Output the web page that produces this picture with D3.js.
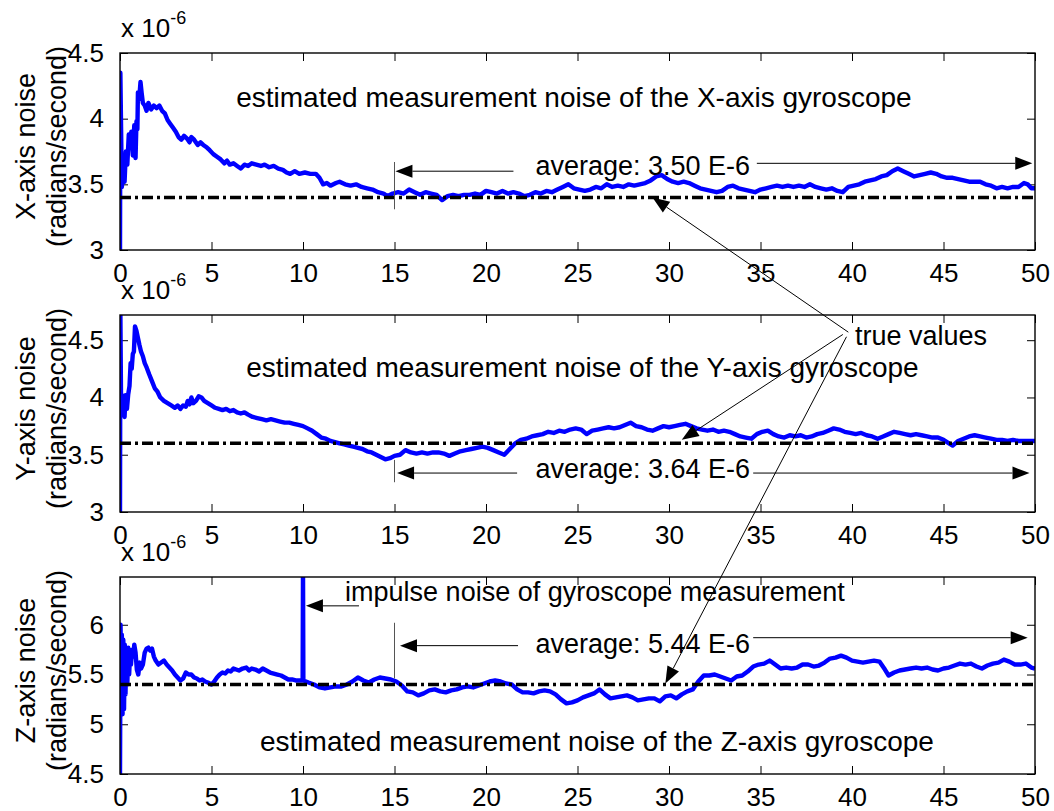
<!DOCTYPE html>
<html>
<head>
<meta charset="utf-8">
<script src="https://cdn.jsdelivr.net/npm/d3@7/dist/d3.min.js"></script>
<style>
  html, body { margin: 0; padding: 0; background: #fff; }
  text { font-family: "Liberation Sans", Arial, sans-serif; fill: #000; }
</style>
</head>
<body>
<svg id="chart" width="1054" height="811"></svg>
<script>
// ---- data (time in s, noise in 1e-6 rad/s) ----
const timeTicks = [0, 5, 10, 15, 20, 25, 30, 35, 40, 45, 50];

const xNoise = [[0, 2.98], [0.02, 4.35], [0.1, 3.48], [0.18, 3.6], [0.25, 3.52], [0.32, 3.75], [0.4, 3.65], [0.48, 3.88], [0.55, 3.78], [0.62, 3.9], [0.7, 3.72], [0.78, 3.95], [0.85, 3.7], [0.9, 3.98], [0.95, 3.92], [0.98, 4.2], [1.05, 4.15], [1.12, 4.28], [1.18, 4.2], [1.25, 4.12], [1.35, 4.1], [1.45, 4.06], [1.55, 4.12], [1.7, 4.07], [1.85, 4.1], [2.0, 4.08], [2.15, 4.1], [2.3, 4.06], [2.45, 4.04], [2.6, 3.99], [2.75, 3.96], [2.9, 3.93], [3.05, 3.9], [3.2, 3.86], [3.35, 3.84], [3.5, 3.87], [3.65, 3.85], [3.8, 3.82], [3.9, 3.86], [4.05, 3.84], [4.25, 3.8], [4.4, 3.82], [4.55, 3.8], [4.75, 3.78], [4.9, 3.76], [5.1, 3.73], [5.3, 3.71], [5.5, 3.69], [5.7, 3.66], [5.85, 3.68], [6.0, 3.65], [6.2, 3.66], [6.4, 3.64], [6.6, 3.62], [6.8, 3.65], [7.0, 3.64], [7.2, 3.66], [7.45, 3.65], [7.7, 3.64], [7.9, 3.65], [8.15, 3.63], [8.4, 3.64], [8.65, 3.62], [8.9, 3.61], [9.1, 3.59], [9.3, 3.58], [9.55, 3.6], [9.8, 3.58], [10.1, 3.59], [10.4, 3.58], [10.7, 3.58], [10.9, 3.55], [11.1, 3.5], [11.3, 3.51], [11.5, 3.49], [11.8, 3.51], [12.0, 3.52], [12.3, 3.5], [12.6, 3.49], [12.9, 3.5], [13.2, 3.48], [13.5, 3.47], [13.8, 3.46], [14.1, 3.44], [14.4, 3.43], [14.6, 3.41], [14.9, 3.43], [15.2, 3.44], [15.5, 3.43], [15.8, 3.46], [16.1, 3.44], [16.4, 3.42], [16.7, 3.44], [17.0, 3.43], [17.3, 3.42], [17.6, 3.38], [17.9, 3.41], [18.2, 3.42], [18.5, 3.41], [18.8, 3.42], [19.1, 3.42], [19.4, 3.43], [19.7, 3.42], [20.0, 3.45], [20.3, 3.44], [20.6, 3.43], [20.9, 3.45], [21.2, 3.43], [21.5, 3.44], [21.8, 3.43], [22.1, 3.41], [22.4, 3.42], [22.7, 3.44], [23.0, 3.43], [23.3, 3.45], [23.6, 3.44], [23.9, 3.46], [24.2, 3.48], [24.5, 3.5], [24.8, 3.47], [25.1, 3.46], [25.4, 3.45], [25.7, 3.46], [26.0, 3.48], [26.3, 3.47], [26.6, 3.5], [26.9, 3.48], [27.2, 3.49], [27.5, 3.48], [27.8, 3.5], [28.1, 3.49], [28.4, 3.5], [28.7, 3.51], [29.0, 3.53], [29.3, 3.56], [29.6, 3.57], [29.9, 3.54], [30.2, 3.52], [30.5, 3.51], [30.8, 3.52], [31.1, 3.51], [31.4, 3.49], [31.7, 3.47], [32.0, 3.46], [32.3, 3.45], [32.6, 3.44], [32.9, 3.45], [33.2, 3.48], [33.5, 3.49], [33.8, 3.47], [34.1, 3.46], [34.4, 3.45], [34.7, 3.44], [35.0, 3.46], [35.3, 3.47], [35.6, 3.48], [35.9, 3.49], [36.2, 3.48], [36.5, 3.49], [36.8, 3.48], [37.1, 3.49], [37.4, 3.48], [37.7, 3.5], [38.0, 3.48], [38.3, 3.47], [38.6, 3.46], [38.9, 3.47], [39.2, 3.45], [39.5, 3.44], [39.8, 3.48], [40.1, 3.49], [40.4, 3.5], [40.7, 3.52], [41.0, 3.53], [41.3, 3.54], [41.6, 3.56], [41.9, 3.57], [42.2, 3.6], [42.5, 3.62], [42.8, 3.6], [43.1, 3.58], [43.4, 3.56], [43.7, 3.57], [44.0, 3.58], [44.3, 3.59], [44.6, 3.58], [44.9, 3.56], [45.2, 3.55], [45.5, 3.55], [45.8, 3.54], [46.1, 3.53], [46.4, 3.52], [46.7, 3.52], [47.0, 3.52], [47.3, 3.5], [47.6, 3.49], [47.9, 3.47], [48.2, 3.48], [48.5, 3.47], [48.8, 3.48], [49.1, 3.48], [49.4, 3.51], [49.6, 3.5], [49.8, 3.47], [50, 3.47]];

const yNoise = [[0, 2.98], [0.02, 4.75], [0.06, 3.9], [0.1, 4.02], [0.15, 3.85], [0.2, 4.0], [0.25, 3.83], [0.3, 4.02], [0.38, 3.9], [0.45, 4.03], [0.52, 4.1], [0.58, 4.3], [0.64, 4.25], [0.7, 4.38], [0.76, 4.4], [0.82, 4.62], [0.9, 4.58], [0.98, 4.52], [1.06, 4.46], [1.15, 4.4], [1.25, 4.36], [1.35, 4.3], [1.46, 4.26], [1.6, 4.2], [1.75, 4.14], [1.9, 4.08], [2.05, 4.05], [2.2, 4.0], [2.4, 3.97], [2.6, 3.95], [2.8, 3.93], [3.0, 3.91], [3.15, 3.93], [3.3, 3.9], [3.45, 3.93], [3.6, 3.92], [3.7, 3.97], [3.8, 3.94], [3.9, 4.0], [4.0, 3.95], [4.15, 3.97], [4.3, 4.01], [4.45, 4.0], [4.6, 3.97], [4.8, 3.95], [5.0, 3.93], [5.2, 3.91], [5.4, 3.9], [5.6, 3.89], [5.8, 3.9], [6.0, 3.88], [6.2, 3.89], [6.4, 3.87], [6.6, 3.86], [6.8, 3.87], [7.0, 3.85], [7.25, 3.83], [7.5, 3.82], [7.75, 3.81], [8.0, 3.8], [8.25, 3.81], [8.5, 3.8], [8.75, 3.79], [9.0, 3.78], [9.25, 3.78], [9.5, 3.77], [9.75, 3.76], [10.0, 3.75], [10.25, 3.73], [10.5, 3.71], [10.75, 3.68], [11.0, 3.65], [11.25, 3.64], [11.5, 3.62], [11.75, 3.61], [12.0, 3.6], [12.25, 3.59], [12.5, 3.58], [12.75, 3.57], [13.0, 3.56], [13.25, 3.55], [13.5, 3.53], [13.75, 3.52], [14.0, 3.5], [14.25, 3.48], [14.5, 3.46], [14.75, 3.47], [15.0, 3.49], [15.3, 3.5], [15.6, 3.54], [15.9, 3.52], [16.2, 3.51], [16.5, 3.52], [16.8, 3.51], [17.1, 3.52], [17.4, 3.52], [17.7, 3.51], [18.0, 3.49], [18.3, 3.51], [18.6, 3.53], [18.9, 3.54], [19.2, 3.55], [19.5, 3.56], [19.8, 3.57], [20.1, 3.56], [20.4, 3.54], [20.7, 3.52], [21.0, 3.5], [21.3, 3.55], [21.6, 3.6], [21.9, 3.63], [22.2, 3.64], [22.5, 3.66], [22.8, 3.67], [23.1, 3.68], [23.4, 3.7], [23.7, 3.69], [24.0, 3.71], [24.3, 3.7], [24.6, 3.72], [24.9, 3.73], [25.2, 3.72], [25.5, 3.68], [25.8, 3.71], [26.1, 3.72], [26.4, 3.73], [26.7, 3.74], [27.0, 3.73], [27.3, 3.74], [27.6, 3.76], [27.9, 3.78], [28.2, 3.75], [28.5, 3.74], [28.8, 3.72], [29.1, 3.71], [29.4, 3.73], [29.7, 3.75], [30.0, 3.74], [30.3, 3.75], [30.6, 3.76], [30.9, 3.77], [31.2, 3.75], [31.5, 3.73], [31.8, 3.72], [32.1, 3.71], [32.4, 3.72], [32.7, 3.7], [33.0, 3.71], [33.3, 3.7], [33.6, 3.68], [33.9, 3.66], [34.2, 3.65], [34.5, 3.64], [34.8, 3.68], [35.1, 3.7], [35.4, 3.71], [35.7, 3.68], [36.0, 3.66], [36.3, 3.65], [36.6, 3.67], [36.9, 3.66], [37.2, 3.67], [37.5, 3.65], [37.8, 3.66], [38.1, 3.68], [38.4, 3.69], [38.7, 3.71], [39.0, 3.73], [39.3, 3.72], [39.6, 3.7], [39.9, 3.69], [40.2, 3.68], [40.5, 3.69], [40.8, 3.67], [41.1, 3.66], [41.4, 3.64], [41.7, 3.66], [42.0, 3.68], [42.3, 3.7], [42.6, 3.69], [42.9, 3.68], [43.2, 3.67], [43.5, 3.68], [43.8, 3.67], [44.1, 3.66], [44.4, 3.65], [44.7, 3.65], [45.0, 3.63], [45.3, 3.6], [45.5, 3.58], [45.8, 3.62], [46.1, 3.64], [46.4, 3.66], [46.7, 3.67], [47.0, 3.66], [47.3, 3.65], [47.6, 3.64], [47.9, 3.63], [48.2, 3.63], [48.5, 3.62], [48.8, 3.63], [49.1, 3.62], [49.4, 3.62], [49.7, 3.62], [50, 3.62]];

const zNoise = [[0, 4.5], [0.03, 6.0], [0.07, 5.2], [0.1, 5.9], [0.14, 5.1], [0.18, 5.85], [0.22, 5.15], [0.26, 5.8], [0.3, 5.3], [0.35, 5.75], [0.4, 5.4], [0.45, 5.77], [0.5, 5.5], [0.55, 5.7], [0.6, 5.6], [0.66, 5.75], [0.72, 5.68], [0.78, 5.8], [0.85, 5.72], [0.92, 5.55], [1.0, 5.5], [1.08, 5.62], [1.15, 5.56], [1.25, 5.6], [1.35, 5.72], [1.45, 5.76], [1.55, 5.77], [1.65, 5.74], [1.75, 5.76], [1.85, 5.68], [1.95, 5.64], [2.1, 5.6], [2.25, 5.62], [2.4, 5.64], [2.55, 5.6], [2.7, 5.57], [2.85, 5.54], [3.0, 5.5], [3.15, 5.47], [3.3, 5.44], [3.45, 5.46], [3.6, 5.52], [3.75, 5.5], [3.9, 5.5], [4.05, 5.47], [4.2, 5.46], [4.35, 5.44], [4.5, 5.45], [4.65, 5.43], [4.8, 5.42], [5.0, 5.4], [5.15, 5.43], [5.3, 5.47], [5.45, 5.5], [5.6, 5.52], [5.75, 5.51], [5.9, 5.54], [6.05, 5.53], [6.2, 5.56], [6.35, 5.55], [6.5, 5.54], [6.7, 5.56], [6.9, 5.57], [7.05, 5.54], [7.2, 5.56], [7.4, 5.55], [7.6, 5.53], [7.8, 5.56], [8.0, 5.54], [8.2, 5.52], [8.4, 5.51], [8.6, 5.5], [8.8, 5.49], [9.0, 5.47], [9.2, 5.45], [9.4, 5.45], [9.6, 5.44], [9.8, 5.44], [9.98, 5.44], [10.0, 6.6], [10.02, 5.44], [10.3, 5.42], [10.6, 5.4], [10.9, 5.37], [11.2, 5.36], [11.5, 5.37], [11.8, 5.38], [12.1, 5.38], [12.4, 5.4], [12.7, 5.43], [13.0, 5.47], [13.3, 5.44], [13.6, 5.42], [13.9, 5.45], [14.2, 5.47], [14.5, 5.46], [14.8, 5.45], [15.1, 5.43], [15.4, 5.39], [15.7, 5.33], [16.0, 5.32], [16.3, 5.29], [16.6, 5.31], [16.9, 5.34], [17.2, 5.35], [17.5, 5.33], [17.8, 5.32], [18.1, 5.34], [18.4, 5.35], [18.7, 5.37], [19.0, 5.38], [19.3, 5.37], [19.6, 5.39], [19.9, 5.41], [20.2, 5.43], [20.5, 5.44], [20.8, 5.43], [21.1, 5.41], [21.4, 5.4], [21.7, 5.35], [22.0, 5.32], [22.3, 5.32], [22.6, 5.31], [22.9, 5.33], [23.2, 5.34], [23.5, 5.33], [23.8, 5.3], [24.1, 5.25], [24.4, 5.21], [24.7, 5.22], [25.0, 5.24], [25.3, 5.27], [25.6, 5.29], [25.9, 5.31], [26.2, 5.35], [26.5, 5.3], [26.8, 5.26], [27.1, 5.27], [27.4, 5.28], [27.7, 5.29], [28.0, 5.27], [28.3, 5.24], [28.6, 5.25], [28.9, 5.26], [29.2, 5.26], [29.5, 5.23], [29.8, 5.28], [30.1, 5.29], [30.4, 5.26], [30.7, 5.3], [31.0, 5.33], [31.3, 5.35], [31.6, 5.43], [31.9, 5.49], [32.2, 5.49], [32.5, 5.5], [32.8, 5.48], [33.1, 5.46], [33.4, 5.44], [33.7, 5.48], [34.0, 5.49], [34.3, 5.53], [34.6, 5.58], [34.9, 5.6], [35.2, 5.61], [35.5, 5.64], [35.8, 5.6], [36.1, 5.56], [36.4, 5.57], [36.7, 5.56], [37.0, 5.57], [37.3, 5.6], [37.6, 5.6], [37.9, 5.58], [38.2, 5.59], [38.5, 5.62], [38.8, 5.66], [39.1, 5.67], [39.4, 5.69], [39.7, 5.67], [40.0, 5.64], [40.3, 5.63], [40.6, 5.62], [40.9, 5.63], [41.2, 5.64], [41.5, 5.63], [41.8, 5.55], [42.0, 5.49], [42.3, 5.52], [42.6, 5.54], [42.9, 5.55], [43.2, 5.56], [43.5, 5.57], [43.8, 5.56], [44.1, 5.57], [44.4, 5.55], [44.7, 5.54], [45.0, 5.56], [45.3, 5.57], [45.6, 5.59], [45.9, 5.61], [46.2, 5.6], [46.5, 5.61], [46.8, 5.58], [47.1, 5.56], [47.4, 5.59], [47.7, 5.61], [48.0, 5.62], [48.3, 5.65], [48.6, 5.63], [48.9, 5.6], [49.2, 5.6], [49.5, 5.61], [49.8, 5.57], [50, 5.56]];

const trueValues = [3.40, 3.60, 5.40];
const averageLabels = ['average: 3.50 E-6', 'average: 3.64 E-6', 'average: 5.44 E-6'];
const titleLabels = [
  'estimated measurement noise of the X-axis gyroscope',
  'estimated measurement noise of the Y-axis gyroscope',
  'estimated measurement noise of the Z-axis gyroscope'
];
const axisLabels = ['X-axis noise', 'Y-axis noise', 'Z-axis noise'];
const yDomains = [[3, 4.5], [3, 4.72], [4.5, 6.48]];
const yTickValues = [[3, 3.5, 4, 4.5], [3, 3.5, 4, 4.5], [4.5, 5, 5.5, 6]];

// annotation anchors, in each panel's data units [t, value]
const titleAnchors = [[6.35, 4.09], [6.9, 4.18], [7.65, 4.73]];
const averageTextAnchors = [[22.7, 3.57], [22.7, 3.30], [22.7, 5.72]];
const leftArrows = [[21.5, 15.05, 3.60], [21.7, 15.14, 3.34], [21.75, 15.3, 5.79]];   // from t, to t, at value
const rightArrows = [[34.8, 49.85, 3.66], [34.6, 49.7, 3.34], [34.6, 49.6, 5.87]];
const markerLines = [[15, 3.31, 3.67], [15, 3.26, 3.455], [15, 5.46, 6.02]];          // t, from value, to value
const arrowTips = [[29.1, 3.40], [30.7, 3.63], [29.8, 5.41]];

// ---- layout ----
const plotLeft = 120, plotRight = 1035;
const panelTops = [53, 315, 577];
const panelHeight = 197;

const svg = d3.select('#chart');
const defs = svg.append('defs');

const x = d3.scaleLinear().domain([0, 50]).range([plotLeft, plotRight]);

function arrow(g, x1, y1, x2, y2) {
  const ang = Math.atan2(y2 - y1, x2 - x1);
  const L = 17, hw = 6.5;
  const bx = x2 - L * Math.cos(ang), by = y2 - L * Math.sin(ang);
  g.append('line')
    .attr('x1', x1).attr('y1', y1).attr('x2', bx).attr('y2', by)
    .attr('stroke', '#000').attr('stroke-width', 1);
  g.append('path')
    .attr('d', `M${x2},${y2}L${bx + hw * Math.sin(ang)},${by - hw * Math.cos(ang)}L${bx - hw * Math.sin(ang)},${by + hw * Math.cos(ang)}Z`)
    .attr('fill', '#000');
}

const series = [xNoise, yNoise, zNoise];
const yScales = [];

series.forEach((data, i) => {
  const top = panelTops[i];
  const y = d3.scaleLinear().domain(yDomains[i]).range([top + panelHeight, top]);
  yScales.push(y);
  const g = svg.append('g');

  defs.append('clipPath').attr('id', 'clip' + i)
    .append('rect').attr('x', plotLeft).attr('y', top)
    .attr('width', plotRight - plotLeft).attr('height', panelHeight);

  // axes: bottom with labels, top/right mirrored, ticks inward
  g.append('g')
    .attr('transform', `translate(0,${top + panelHeight})`)
    .call(d3.axisBottom(x).tickValues(timeTicks).tickSizeInner(-8).tickSizeOuter(0).tickPadding(14).tickFormat(d3.format('d')))
    .call(a => a.select('.domain').remove())
    .call(a => a.selectAll('text').attr('font-size', 26).attr('font-family', '"Liberation Sans", Arial, sans-serif').attr('fill', '#000').attr('dy', '0.71em'));
  g.append('g')
    .attr('transform', `translate(0,${top})`)
    .call(d3.axisTop(x).tickValues(timeTicks).tickSizeInner(-8).tickSizeOuter(0).tickFormat(''))
    .call(a => a.select('.domain').remove());
  g.append('g')
    .attr('transform', `translate(${plotLeft},0)`)
    .call(d3.axisLeft(y).tickValues(yTickValues[i]).tickSizeInner(-8).tickSizeOuter(0).tickPadding(16).tickFormat(d3.format('~g')))
    .call(a => a.select('.domain').remove())
    .call(a => a.selectAll('text').attr('font-size', 26).attr('font-family', '"Liberation Sans", Arial, sans-serif').attr('fill', '#000'));
  g.append('g')
    .attr('transform', `translate(${plotRight},0)`)
    .call(d3.axisRight(y).tickValues(yTickValues[i]).tickSizeInner(-8).tickSizeOuter(0).tickFormat(''))
    .call(a => a.select('.domain').remove());
  g.selectAll('.tick line').attr('stroke', '#000').attr('stroke-width', 1);

  // scale factor label
  const sf = g.append('text').attr('x', plotLeft + 1).attr('y', top - 16).attr('font-size', 26);
  sf.append('tspan').text('x 10');
  sf.append('tspan').attr('font-size', 18).attr('dy', -13).text('-6');

  // y labels
  const cy = top + panelHeight / 2 - 5;
  g.append('text').attr('transform', `translate(35,${cy}) rotate(-90)`)
    .attr('text-anchor', 'middle').attr('font-size', 27).text(axisLabels[i]);
  g.append('text').attr('transform', `translate(66,${cy}) rotate(-90)`)
    .attr('text-anchor', 'middle').attr('font-size', 27).text('(radians/second)');

  // series
  const plot = g.append('g').attr('clip-path', `url(#clip${i})`);
  plot.append('path').datum(data)
    .attr('d', d3.line().x(d => x(d[0])).y(d => y(d[1])))
    .attr('fill', 'none').attr('stroke', '#0000ff').attr('stroke-width', 4.4)
    .attr('stroke-linejoin', 'round');
  plot.append('line')
    .attr('x1', x(0)).attr('x2', x(50))
    .attr('y1', y(trueValues[i])).attr('y2', y(trueValues[i]))
    .attr('stroke', '#000').attr('stroke-width', 3.4).attr('stroke-dasharray', '11,4,3,4');

  // frame
  g.append('rect').attr('x', plotLeft).attr('y', top)
    .attr('width', plotRight - plotLeft).attr('height', panelHeight)
    .attr('fill', 'none').attr('stroke', '#000').attr('stroke-width', 1.4);

  // annotations
  const ann = g.append('g');
  ann.append('text').attr('x', x(titleAnchors[i][0])).attr('y', y(titleAnchors[i][1]))
    .attr('font-size', 28).text(titleLabels[i]);
  ann.append('text').attr('x', x(averageTextAnchors[i][0])).attr('y', y(averageTextAnchors[i][1]))
    .attr('font-size', 27).text(averageLabels[i]);
  ann.append('line')
    .attr('x1', x(markerLines[i][0])).attr('x2', x(markerLines[i][0]))
    .attr('y1', y(markerLines[i][1])).attr('y2', y(markerLines[i][2]))
    .attr('stroke', '#555').attr('stroke-width', 1);
  arrow(ann, x(leftArrows[i][0]), y(leftArrows[i][2]), x(leftArrows[i][1]), y(leftArrows[i][2]));
  arrow(ann, x(rightArrows[i][0]), y(rightArrows[i][2]), x(rightArrows[i][1]), y(rightArrows[i][2]));
});

// impulse annotation on Z panel
const impulseAnchor = [12.3, 6.24];
const impulseArrow = [13.06, 10.16, 6.19];
const zy = yScales[2];
svg.append('text').attr('x', x(impulseAnchor[0])).attr('y', zy(impulseAnchor[1]))
  .attr('font-size', 27).text('impulse noise of gyroscope measurement');
arrow(svg, x(impulseArrow[0]), zy(impulseArrow[2]), x(impulseArrow[1]), zy(impulseArrow[2]));

// "true values" callout, anchored in Y panel units
const trueTextAnchor = [40.16, 4.46];
const trueArrowStarts = [[39.8, 4.57], [39.5, 4.55], [39.7, 4.53]];
const yy = yScales[1];
svg.append('text').attr('x', x(trueTextAnchor[0])).attr('y', yy(trueTextAnchor[1]))
  .attr('font-size', 27).text('true values');
arrowTips.forEach((tip, i) => {
  const s = trueArrowStarts[i];
  arrow(svg, x(s[0]), yy(s[1]), x(tip[0]), yScales[i](tip[1]));
});
</script>
</body>
</html>
